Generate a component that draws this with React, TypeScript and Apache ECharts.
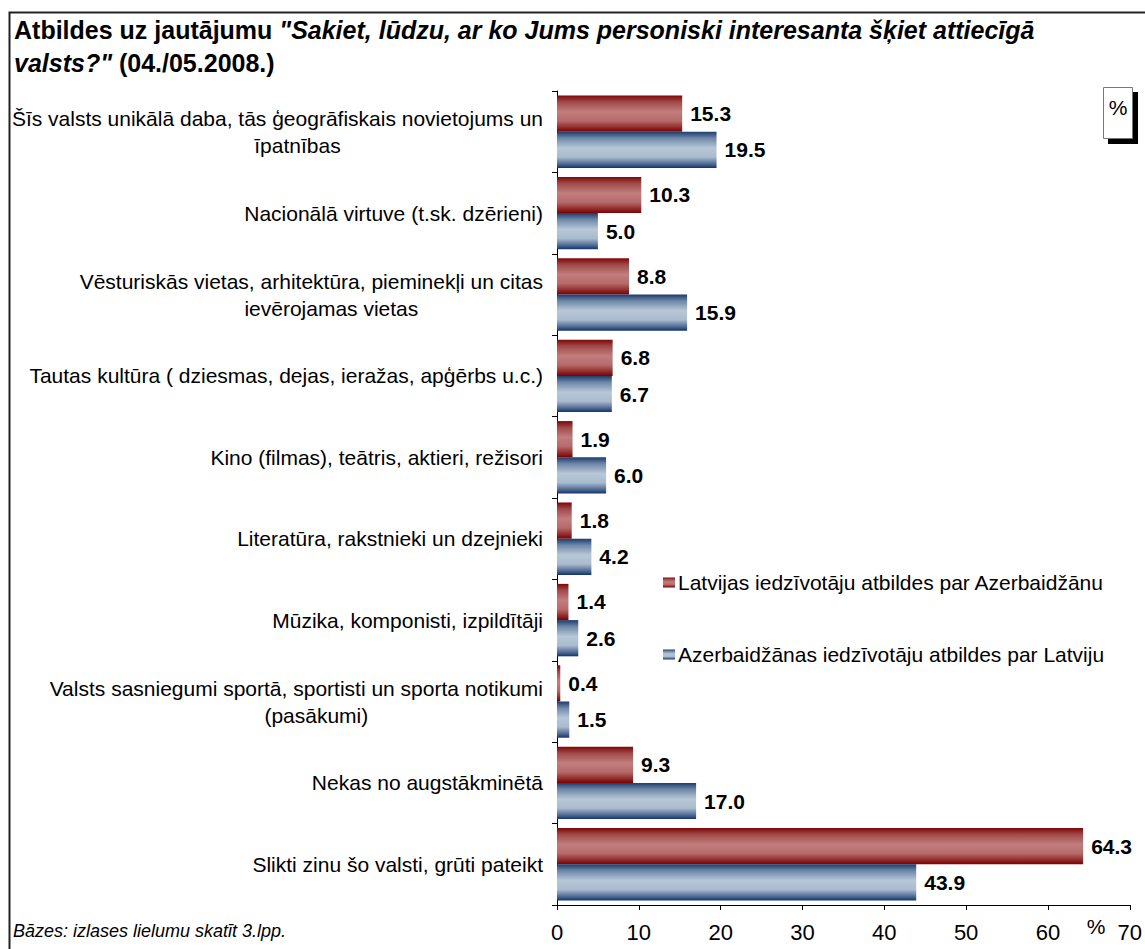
import React, { useEffect, useRef } from "react";
import * as echarts from "echarts";

const categories: string[] = [
  "Šīs valsts unikālā daba, tās ģeogrāfiskais novietojums un\nīpatnības",
  "Nacionālā virtuve (t.sk. dzērieni)",
  "Vēsturiskās vietas, arhitektūra, pieminekļi un citas\nievērojamas vietas",
  "Tautas kultūra ( dziesmas, dejas, ieražas, apģērbs u.c.)",
  "Kino (filmas), teātris, aktieri, režisori",
  "Literatūra, rakstnieki un dzejnieki",
  "Mūzika, komponisti, izpildītāji",
  "Valsts sasniegumi sportā, sportisti un sporta notikumi\n(pasākumi)",
  "Nekas no augstākminētā",
  "Slikti zinu šo valsti, grūti pateikt",
];

const seriesNames: string[] = [
  "Latvijas iedzīvotāju atbildes par Azerbaidžānu",
  "Azerbaidžānas iedzīvotāju atbildes par Latviju",
];

const latviaValues: number[] = [15.3, 10.3, 8.8, 6.8, 1.9, 1.8, 1.4, 0.4, 9.3, 64.3];
const azerValues: number[] = [19.5, 5.0, 15.9, 6.7, 6.0, 4.2, 2.6, 1.5, 17.0, 43.9];

const xMin = 0;
const xMax = 70;
const xInterval = 10;

const titleMain = "Atbildes uz jautājumu ";
const titleQuote1 = "\"Sakiet, lūdzu, ar ko Jums personiski interesanta šķiet attiecīgā";
const titleQuote2 = "valsts?\"";
const titleDate = " (04./05.2008.)";
const footerText = "Bāzes: izlases lielumu skatīt 3.lpp.";
const unitText = "%";

const FONT = "'Liberation Sans', Arial, Helvetica, sans-serif";

const redGradient = new echarts.graphic.LinearGradient(0, 0, 0, 1, [
  { offset: 0, color: "#7e0606" },
  { offset: 0.18, color: "#a04a4a" },
  { offset: 0.45, color: "#c27d7d" },
  { offset: 0.7, color: "#b66a6a" },
  { offset: 0.9, color: "#8e2424" },
  { offset: 1, color: "#7a0000" },
]);

const blueGradient = new echarts.graphic.LinearGradient(0, 0, 0, 1, [
  { offset: 0, color: "#1c3b6d" },
  { offset: 0.18, color: "#6f88a8" },
  { offset: 0.45, color: "#b7c7d7" },
  { offset: 0.7, color: "#a9bbce" },
  { offset: 0.9, color: "#4a6590" },
  { offset: 1, color: "#123468" },
]);

export default function App() {
  const ref = useRef<HTMLDivElement>(null);

  useEffect(() => {
    if (!ref.current) return;
    const chart = echarts.init(ref.current, undefined, { renderer: "svg" });

    const labelFormatter = (value: string) => {
      const lines = value.split("\n");
      if (lines.length === 1) return `{l|${lines[0]}}`;
      return `{l|${lines[0]}}\n{s| }{c|${lines[1]}}`;
    };

    const dataLabel = {
      show: true,
      position: "right" as const,
      distance: 8,
      fontFamily: FONT,
      fontSize: 21,
      fontWeight: "bold" as const,
      color: "#000",
      formatter: (p: any) => Number(p.value).toFixed(1),
    };

    chart.setOption({
      animation: false,
      backgroundColor: "#ffffff",
      title: {
        left: 9,
        top: 8,
        text: `{b|${titleMain}}{bi|${titleQuote1}}\n{bi|${titleQuote2}}{b|${titleDate}}`,
        textStyle: {
          rich: {
            b: { fontFamily: FONT, fontSize: 25, fontWeight: "bold", color: "#000", lineHeight: 33 },
            bi: {
              fontFamily: FONT,
              fontSize: 25,
              fontWeight: "bold",
              fontStyle: "italic",
              color: "#000",
              lineHeight: 33,
            },
          },
        },
      },
      legend: {
        orient: "vertical",
        left: 658,
        top: 567,
        itemWidth: 12,
        itemHeight: 10,
        itemGap: 51,
        icon: "rect",
        data: seriesNames,
        textStyle: { fontFamily: FONT, fontSize: 21, color: "#000", padding: [0, 0, 0, -2] },
      },
      grid: { left: 557, right: 12, top: 91, bottom: 44 },
      xAxis: {
        type: "value",
        min: xMin,
        max: xMax,
        interval: xInterval,
        axisLine: { show: true, lineStyle: { color: "#000", width: 1 } },
        axisTick: { show: true, length: 5, inside: false, lineStyle: { color: "#000" } },
        splitLine: { show: false },
        axisLabel: { fontFamily: FONT, fontSize: 22, color: "#000", margin: 16 },
      },
      yAxis: {
        type: "category",
        inverse: true,
        data: categories,
        axisLine: { show: true, lineStyle: { color: "#000", width: 1 } },
        axisTick: { show: true, length: 5, inside: false, alignWithLabel: false, lineStyle: { color: "#000" } },
        splitLine: { show: false },
        axisLabel: {
          margin: 14,
          formatter: labelFormatter,
          rich: {
            l: { fontFamily: FONT, fontSize: 21, color: "#000", lineHeight: 27 },
            c: { fontFamily: FONT, fontSize: 21, color: "#000", lineHeight: 27, align: "center" },
            s: { fontFamily: FONT, fontSize: 21, lineHeight: 27, width: 40, align: "left" },
          },
        },
      },
      series: [
        {
          name: seriesNames[0],
          type: "bar",
          data: latviaValues,
          barGap: "0%",
          barCategoryGap: "11%",
          itemStyle: { color: redGradient },
          label: dataLabel,
        },
        {
          name: seriesNames[1],
          type: "bar",
          data: azerValues,
          barGap: "0%",
          barCategoryGap: "11%",
          itemStyle: { color: blueGradient },
          label: dataLabel,
        },
      ],
      graphic: [
        {
          type: "rect",
          silent: true,
          shape: { x: 9.5, y: 12.5, width: 1200, height: 1000 },
          style: { fill: "none", stroke: "#222", lineWidth: 2 },
        },
        {
          type: "rect",
          silent: true,
          shape: { x: 1108, y: 92, width: 30, height: 52 },
          style: { fill: "#000" },
        },
        {
          type: "rect",
          silent: true,
          shape: { x: 1103.5, y: 87.5, width: 29, height: 51 },
          style: { fill: "#fff", stroke: "#777", lineWidth: 1 },
        },
        {
          type: "text",
          silent: true,
          x: 1118,
          y: 107,
          style: {
            text: unitText,
            fontFamily: FONT,
            fontSize: 21,
            fill: "#000",
            align: "center",
            verticalAlign: "middle",
          },
        },
        {
          type: "text",
          silent: true,
          x: 1096,
          y: 926,
          style: {
            text: unitText,
            fontFamily: FONT,
            fontSize: 21,
            fill: "#000",
            align: "center",
            verticalAlign: "middle",
          },
        },
        {
          type: "text",
          silent: true,
          x: 13,
          y: 931,
          style: {
            text: footerText,
            fontFamily: FONT,
            fontSize: 18,
            fontStyle: "italic",
            fill: "#000",
            align: "left",
            verticalAlign: "middle",
          },
        },
      ],
    });

    return () => {
      chart.dispose();
    };
  }, []);

  return (
    <div
      ref={ref}
      style={{ position: "fixed", left: 0, top: 0, width: 1145, height: 949, background: "#fff" }}
    />
  );
}
